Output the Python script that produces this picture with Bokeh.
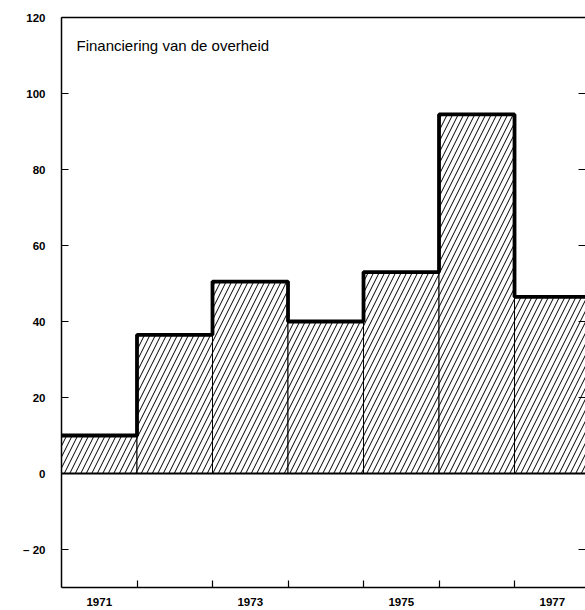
from bokeh.plotting import figure
from bokeh.models import Range1d, LinearAxis, FixedTicker, Span, Label
from bokeh.embed import file_html
from bokeh.resources import INLINE

# ---- data ----
years = [1971, 1972, 1973, 1974, 1975, 1976, 1977]
values = [10, 36.5, 50.5, 40, 53, 94.5, 46.5]
year_labels = [1971, 1973, 1975, 1977]
y_ticks = [-20, 0, 20, 40, 60, 80, 100, 120]
title_text = "Financiering van de overheid"

edges = [y - 0.5 for y in years] + [years[-1] + 0.5]
step_y = values + [values[-1]]
boundaries = edges[1:-1]

FONT = "Liberation Sans"

p = figure(frame_width=524, frame_height=570,
           x_range=Range1d(1970.5, 1977.44), y_range=Range1d(-30, 120),
           output_backend="svg", toolbar_location=None,
           min_border_left=61, min_border_right=0, min_border_top=17, min_border_bottom=0)
p.xgrid.visible = False
p.ygrid.visible = False
p.outline_line_color = None
p.background_fill_color = "white"
p.border_fill_color = "white"

# bars
p.vbar(x=years, top=values, bottom=0, width=1,
       fill_color="white", line_color="black", line_width=1,
       hatch_pattern="/", hatch_scale=11, hatch_weight=1, hatch_color="black")

# thick step outline
p.step(x=edges, y=step_y, mode="after", line_color="black", line_width=3.8)

# zero line
p.add_layout(Span(location=0, dimension="width", line_color="black", line_width=2))

# title inside
p.add_layout(Label(x=1970.5 + 15 / 75.5, y=114.8, text=title_text,
                   text_baseline="top", text_align="left",
                   text_font=FONT, text_font_size="15px", text_color="black"))

# x axis
xa = p.xaxis[0]
xa.ticker = FixedTicker(ticks=year_labels, minor_ticks=boundaries)
xa.major_tick_in = 0
xa.major_tick_out = 0
xa.minor_tick_in = 7
xa.minor_tick_out = 0
xa.minor_tick_line_color = "black"
xa.minor_tick_line_width = 1.2
xa.axis_line_color = "black"
xa.axis_line_width = 1.5
xa.major_label_text_font = FONT
xa.major_label_text_font_style = "bold"
xa.major_label_text_font_size = "11.5px"
xa.major_label_standoff = 10
xa.major_label_text_color = "black"

# y axis
ya = p.yaxis[0]
ya.ticker = FixedTicker(ticks=y_ticks)
ya.major_tick_in = 7
ya.major_tick_out = 0
ya.minor_tick_in = 0
ya.minor_tick_out = 0
ya.major_tick_line_color = "black"
ya.major_tick_line_width = 1.2
ya.axis_line_color = "black"
ya.axis_line_width = 1.5
ya.major_label_text_font = FONT
ya.major_label_text_font_style = "bold"
ya.major_label_text_font_size = "11.5px"
ya.major_label_standoff = 16
ya.major_label_text_color = "black"
ya.major_label_overrides = {-20: "\u2013 20"}

# right axis (ticks only, drawn as minor ticks so no labels exist)
ra = LinearAxis(ticker=FixedTicker(ticks=[], minor_ticks=y_ticks),
                major_tick_in=0, major_tick_out=0,
                minor_tick_in=7, minor_tick_out=0, axis_line_color=None,
                minor_tick_line_color="black", minor_tick_line_width=1.2,
                major_label_standoff=0)
p.add_layout(ra, "right")

# top frame line
ta = LinearAxis(ticker=FixedTicker(ticks=[]), major_tick_in=0, major_tick_out=0,
                minor_tick_in=0, minor_tick_out=0, axis_line_color="black",
                axis_line_width=1.5, major_label_standoff=0)
p.add_layout(ta, "above")

open("out.html", "w").write(file_html(p, INLINE))
